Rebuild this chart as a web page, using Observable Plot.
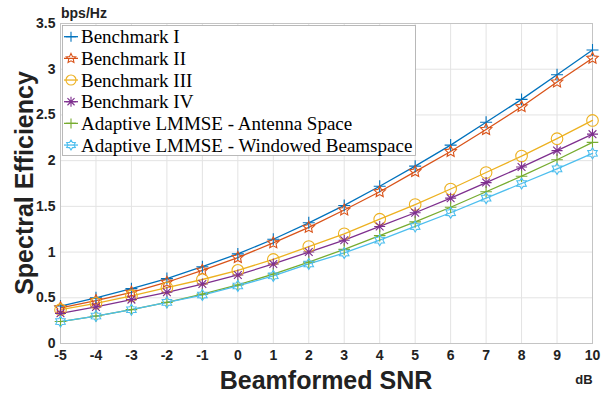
<!DOCTYPE html>
<html>
<head>
<meta charset="utf-8">
<script src="https://cdn.jsdelivr.net/npm/d3@7"></script>
<script src="https://cdn.jsdelivr.net/npm/@observablehq/plot@0.6"></script>
<style>
  html, body { margin: 0; padding: 0; background: #fff; }
  #chart svg { display: block; }
</style>
</head>
<body>
<div id="chart"></div>
<script>
const snr = [-5, -4, -3, -2, -1, 0, 1, 2, 3, 4, 5, 6, 7, 8, 9, 10];
const benchmark1 = [0.41, 0.50, 0.60, 0.71, 0.84, 0.98, 1.14, 1.32, 1.51, 1.72, 1.94, 2.17, 2.42, 2.67, 2.94, 3.21];
const benchmark2 = [0.39, 0.47, 0.56, 0.67, 0.80, 0.94, 1.10, 1.27, 1.46, 1.66, 1.88, 2.10, 2.34, 2.59, 2.86, 3.12];
const benchmark3 = [0.37, 0.44, 0.52, 0.61, 0.70, 0.80, 0.92, 1.06, 1.20, 1.36, 1.52, 1.69, 1.87, 2.05, 2.24, 2.44];
const benchmark4 = [0.33, 0.40, 0.48, 0.56, 0.65, 0.75, 0.87, 1.00, 1.13, 1.28, 1.43, 1.59, 1.76, 1.93, 2.11, 2.29];
const lmmseAntenna = [0.24, 0.30, 0.37, 0.45, 0.54, 0.64, 0.76, 0.89, 1.03, 1.18, 1.33, 1.49, 1.66, 1.83, 2.01, 2.20];
const lmmseBeamspace = [0.24, 0.30, 0.37, 0.45, 0.53, 0.63, 0.74, 0.87, 0.99, 1.13, 1.28, 1.43, 1.59, 1.75, 1.91, 2.08];
const seriesNames = ["Benchmark I", "Benchmark II", "Benchmark III", "Benchmark IV",
  "Adaptive LMMSE - Antenna Space", "Adaptive LMMSE - Windowed Beamspace"];
const seriesValues = [benchmark1, benchmark2, benchmark3, benchmark4, lmmseAntenna, lmmseBeamspace];
const seriesColors = ["#0072BD", "#D95319", "#EDB120", "#7E2F8E", "#77AC30", "#4DBEEE"];
const yTicks = [0, 0.5, 1, 1.5, 2, 2.5, 3, 3.5];

// custom stroke symbols (MATLAB-like markers)
const R = s => Math.sqrt(s / Math.PI);
const symPlus = { draw(c, s) { const r = R(s); c.moveTo(-r, 0); c.lineTo(r, 0); c.moveTo(0, -r); c.lineTo(0, r); } };
const symStar8 = { draw(c, s) { const r = R(s), d = r * 0.7071;
  c.moveTo(-r, 0); c.lineTo(r, 0); c.moveTo(0, -r); c.lineTo(0, r);
  c.moveTo(-d, -d); c.lineTo(d, d); c.moveTo(-d, d); c.lineTo(d, -d); } };
const symCircle = { draw(c, s) { const r = R(s); c.moveTo(r, 0); c.arc(0, 0, r, 0, 2 * Math.PI); c.closePath(); } };
function starPath(points, inner) {
  return { draw(c, s) { const r = R(s), ri = r * inner, n = points * 2;
    for (let k = 0; k < n; k++) {
      const a = -Math.PI / 2 + k * Math.PI / points, rr = k % 2 ? ri : r;
      const x = rr * Math.cos(a), y = rr * Math.sin(a);
      if (k === 0) c.moveTo(x, y); else c.lineTo(x, y);
    }
    c.closePath(); } };
}
const symPenta = starPath(5, 0.48);
const symHexa = starPath(6, 0.6);
const seriesSymbols = [symPlus, symPenta, symCircle, symStar8, symPlus, symHexa];
const seriesR = [6, 6, 5.8, 5.5, 5.8, 5.5];

const data = seriesNames.flatMap((name, i) => snr.map((x, j) => ({ x, y: seriesValues[i][j], s: name, i })));

const plot = Plot.plot({
  width: 603,
  height: 395,
  marginLeft: 60,
  marginRight: 11,
  marginTop: 23,
  marginBottom: 52,
  style: { fontFamily: "'Liberation Sans', Arial, sans-serif", fontSize: "14px", fontWeight: "bold", color: "#222", background: "#fff", overflow: "visible" },
  x: { domain: [-5, 10], ticks: snr, tickFormat: d => String(d), tickSize: 0, tickPadding: 7, label: null },
  y: { domain: [0, 3.5], ticks: yTicks, tickFormat: d => String(d), tickSize: 0, tickPadding: 5, label: null },
  color: { domain: seriesNames, range: seriesColors },
  symbol: { domain: seriesNames, range: seriesSymbols },
  marks: [
    Plot.gridX(snr, { stroke: "#e3e3e3", strokeOpacity: 1 }),
    Plot.gridY(yTicks, { stroke: "#e3e3e3", strokeOpacity: 1 }),
    Plot.frame({ stroke: "#c4c4c4" }),
    Plot.line(data, { x: "x", y: "y", z: "s", stroke: "s", strokeWidth: 1.3 }),
    ...seriesNames.map((name, i) =>
      Plot.dot(data.filter(d => d.i === i), { x: "x", y: "y", symbol: "s", stroke: "s", fill: "none", r: seriesR[i], strokeWidth: 1.1 }))
  ]
});
document.getElementById("chart").appendChild(plot);

const svg = d3.select(plot);
const sans = "'Liberation Sans', Arial, sans-serif";
function addText(x, y, txt, size, anchor, weight, family, transform) {
  const t = svg.append("text").attr("font-family", family).attr("font-size", size)
    .attr("font-weight", weight).attr("text-anchor", anchor).attr("fill", "#222").text(txt);
  if (transform) t.attr("transform", transform); else t.attr("x", x).attr("y", y);
  return t;
}
addText(61, 18, "bps/Hz", 14, "start", "bold", sans);
addText(584, 384, "dB", 13, "middle", "bold", sans);
addText(326, 389, "Beamformed SNR", 25, "middle", "bold", sans);
addText(0, 0, "Spectral Efficiency", 25, "middle", "bold", sans, "translate(33,183) rotate(-90)");

// legend
const lg = svg.append("g");
lg.append("rect").attr("x", 62.5).attr("y", 25.5).attr("width", 353).attr("height", 130).attr("fill", "#fff").attr("stroke", "#a8a8a8").attr("stroke-width", 0.8);
seriesNames.forEach((name, i) => {
  const cy = 36.7 + i * 21.67;
  lg.append("line").attr("x1", 64).attr("x2", 78).attr("y1", cy).attr("y2", cy).attr("stroke", seriesColors[i]).attr("stroke-width", 1.3);
  lg.append("path").attr("transform", `translate(71,${cy})`)
    .attr("d", d3.symbol(seriesSymbols[i], Math.PI * 5 * 5)())
    .attr("fill", "none").attr("stroke", seriesColors[i]).attr("stroke-width", 1.1);
  lg.append("text").attr("x", 81).attr("y", cy + 6.5).attr("text-anchor", "start").attr("font-weight", "normal")
    .attr("font-family", "'Liberation Serif', 'Times New Roman', serif").attr("font-size", 19).attr("fill", "#000").text(name);
});
</script>
</body>
</html>
